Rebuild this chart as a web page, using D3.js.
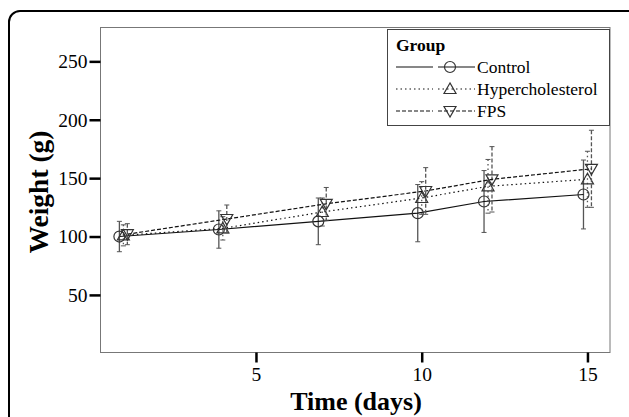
<!DOCTYPE html>
<html lang="en">
<head>
    <meta charset="UTF-8">
    <title>Weight over time</title>
    <script src="https://d3js.org/d3.v7.min.js"></script>
    <style>
        body { margin: 0; background: #fff; }
        svg text { font-family: "Liberation Serif", "Times New Roman", serif; fill: #000; }
        .tick text { font-size: 19.5px; }
        .axis-title { font-size: 26px; font-weight: bold; }
        .legend text { font-size: 17.5px; }
    </style>
</head>
<body>
    <div id="chart"></div>
    <script>
        // values
        const days = [1, 4, 7, 10, 12, 15];
        const control = [100, 106, 113, 120, 130, 136];
        const controlErr = [13, 16, 20, 24.5, 26.5, 29.5];
        const hyper = [101, 107, 121, 133, 143, 149];
        const hyperErr = [9, 10, 12, 14, 23, 24];
        const fps = [102, 115, 128, 139, 149, 158];
        const fpsErr = [9, 12, 14, 20, 28, 33];
        const groups = ["Control", "Hypercholesterol", "FPS"];
        const yTicks = [50, 100, 150, 200, 250];
        const xTicks = [5, 10, 15];

        const W = 629, H = 417;
        const plot = { left: 100.5, right: 610, top: 27.5, bottom: 352.5 };

        const svg = d3.select("#chart").append("svg")
            .attr("width", W)
            .attr("height", H);

        // rounded outer frame, runs off the bottom of the picture
        svg.append("rect")
            .attr("x", 9).attr("y", 11)
            .attr("width", 640).attr("height", 460)
            .attr("rx", 11)
            .attr("fill", "none")
            .attr("stroke", "#000")
            .attr("stroke-width", 2);

        const x = d3.scaleLinear().domain([0.31, 15.68]).range([plot.left, plot.right]);
        const y = d3.scaleLinear().domain([0, 279]).range([353.3, plot.top]);

        svg.append("rect")
            .attr("x", plot.left).attr("y", plot.top)
            .attr("width", plot.right - plot.left)
            .attr("height", plot.bottom - plot.top)
            .attr("fill", "#fff")
            .attr("stroke", "#777")
            .attr("stroke-width", 1);

        const yAxis = svg.append("g")
            .attr("transform", `translate(${plot.left},0)`)
            .call(d3.axisLeft(y).tickValues(yTicks).tickSize(11).tickPadding(2));
        yAxis.select(".domain").remove();
        yAxis.selectAll(".tick line").attr("stroke", "#000").attr("stroke-width", 2.5);

        const xAxis = svg.append("g")
            .attr("transform", `translate(0,${plot.bottom})`)
            .call(d3.axisBottom(x).tickValues(xTicks).tickSize(10).tickPadding(5));
        xAxis.select(".domain").remove();
        xAxis.selectAll(".tick line").attr("stroke", "#000").attr("stroke-width", 2.5);
        yAxis.attr("font-family", null).attr("font-size", null);
        xAxis.attr("font-family", null).attr("font-size", null);

        svg.append("text")
            .attr("class", "axis-title")
            .attr("x", 356).attr("y", 410)
            .attr("text-anchor", "middle")
            .text("Time (days)");

        svg.append("text")
            .attr("class", "axis-title")
            .attr("transform", "translate(48,192) rotate(-90)")
            .attr("text-anchor", "middle")
            .style("font-size", "27.5px")
            .text("Weight (g)");

        const series = [
            { name: groups[0], values: control, err: controlErr, dash: null, marker: "circle", dodge: -0.12 },
            { name: groups[1], values: hyper, err: hyperErr, dash: "1.5,3", marker: "up", dodge: 0 },
            { name: groups[2], values: fps, err: fpsErr, dash: "4,2", marker: "down", dodge: 0.12 }
        ];

        function drawMarker(g, type, cx, cy) {
            if (type === "circle") {
                g.append("circle").attr("cx", cx).attr("cy", cy).attr("r", 5.5)
                    .attr("fill", "none").attr("stroke", "#333").attr("stroke-width", 1.2);
            } else {
                const s = type === "up" ? 1 : -1;
                const pts = [[cx, cy - 6 * s], [cx - 6, cy + 4.5 * s], [cx + 6, cy + 4.5 * s]];
                g.append("path").attr("d", "M" + pts.join("L") + "Z")
                    .attr("fill", "none").attr("stroke", "#333").attr("stroke-width", 1.2);
            }
        }

        const line = d3.line();

        series.forEach(s => {
            const g = svg.append("g");
            const pts = days.map((d, i) => [x(d + s.dodge), y(s.values[i])]);

            // error bars
            days.forEach((d, i) => {
                const cx = x(d + s.dodge);
                const hi = y(s.values[i] + s.err[i]);
                const lo = y(s.values[i] - s.err[i]);
                g.append("line").attr("x1", cx).attr("x2", cx).attr("y1", hi).attr("y2", lo)
                    .attr("stroke", "#555").attr("stroke-width", 1.3)
                    .attr("stroke-dasharray", s.dash);
                [hi, lo].forEach(v => {
                    g.append("line").attr("x1", cx - 2.5).attr("x2", cx + 2.5).attr("y1", v).attr("y2", v)
                        .attr("stroke", "#555").attr("stroke-width", 1);
                });
            });

            g.append("path")
                .attr("d", line(pts))
                .attr("fill", "none")
                .attr("stroke", "#111")
                .attr("stroke-width", 1.2)
                .attr("stroke-dasharray", s.dash);

            pts.forEach(p => drawMarker(g, s.marker, p[0], p[1]));
        });

        // legend
        const legend = svg.append("g").attr("class", "legend");
        legend.append("rect")
            .attr("x", 387.5).attr("y", 29.5)
            .attr("width", 222).attr("height", 96)
            .attr("fill", "#fff")
            .attr("stroke", "#444")
            .attr("stroke-width", 1);
        legend.append("text")
            .attr("x", 396).attr("y", 51)
            .attr("font-weight", "bold")
            .text("Group");
        series.forEach((s, i) => {
            const ly = 67 + i * 22;
            legend.append("line").attr("x1", 396).attr("x2", 433).attr("y1", ly).attr("y2", ly)
                .attr("stroke", "#111").attr("stroke-width", 1.2).attr("stroke-dasharray", s.dash);
            legend.append("line").attr("x1", 438).attr("x2", 475).attr("y1", ly).attr("y2", ly)
                .attr("stroke", "#111").attr("stroke-width", 1.2).attr("stroke-dasharray", s.dash);
            drawMarker(legend, s.marker, 450, ly);
            legend.append("text")
                .attr("x", 477).attr("y", ly + 6)
                .text(s.name);
        });
    </script>
</body>
</html>
